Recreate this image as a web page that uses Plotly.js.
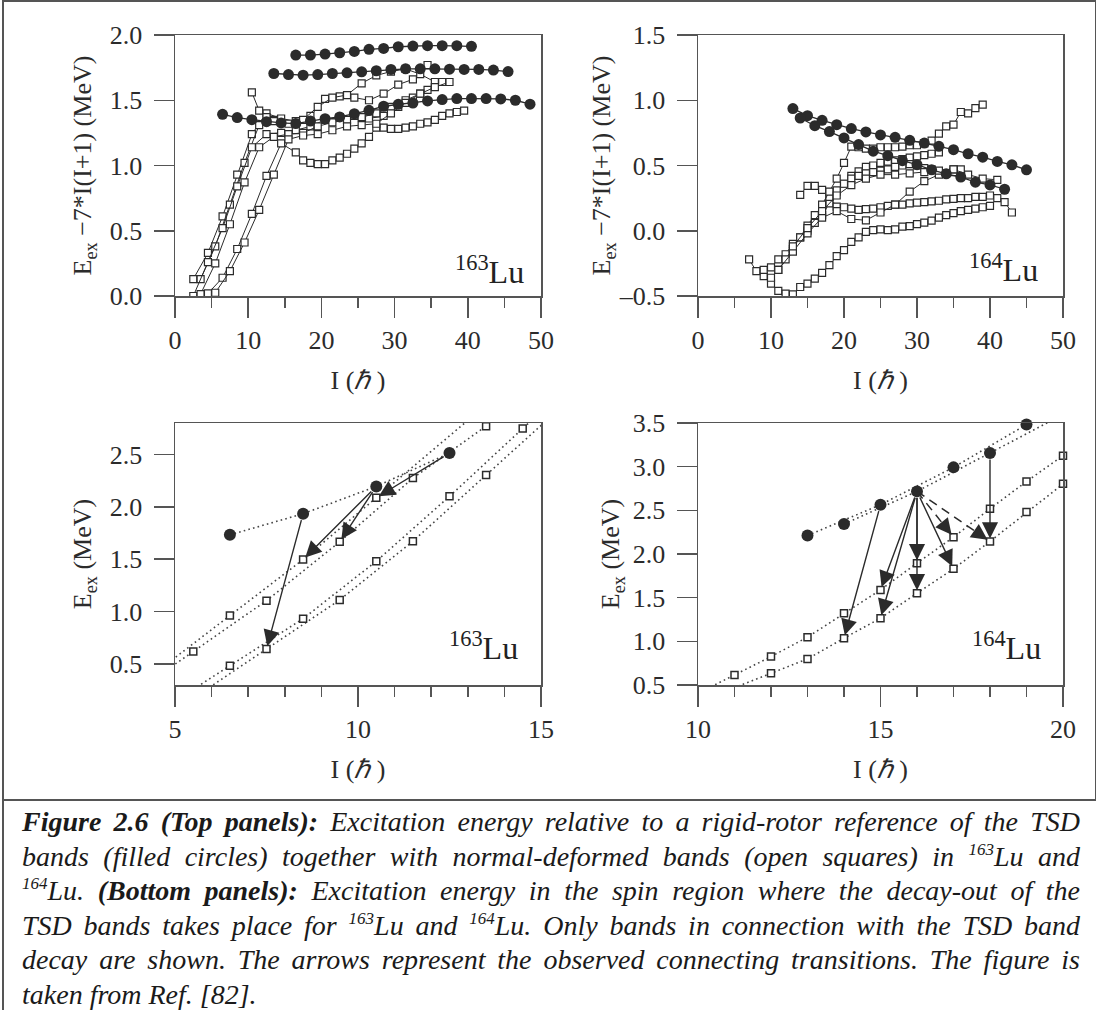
<!DOCTYPE html>
<html>
<head>
<meta charset="utf-8">
<script src="https://cdn.plot.ly/plotly-3.0.1.min.js"></script>
<style>
  body { margin: 0; background: #fff; }
  #wrap { position: relative; width: 1098px; height: 1010px; overflow: hidden; }
  #chart { position: absolute; left: 0; top: 0; width: 1098px; height: 1010px; }
  .rule { position: absolute; background: #555; }
  #caption {
    position: absolute; left: 22px; top: 805px; width: 1058px;
    font-family: "Liberation Serif", "Times New Roman", Times, serif;
    font-style: italic; font-size: 28px; line-height: 34.6px; color: #1a1a1a;
  }
  #caption p { margin: 0; text-align: justify; text-align-last: justify; white-space: nowrap; }
  #caption p.last { text-align-last: left; }
  #caption sup { font-size: 17px; line-height: 0; vertical-align: 11px; }
</style>
</head>
<body>
<div id="wrap">
  <div id="chart"></div>
  <div class="rule" style="left:2px;top:0;width:1.5px;height:1010px;"></div>
  <div class="rule" style="left:2px;top:0;width:1094px;height:1.5px;"></div>
  <div class="rule" style="left:1094.5px;top:0;width:1.5px;height:800px;"></div>
  <div class="rule" style="left:2px;top:799px;width:1094px;height:1.5px;"></div>
  <div id="caption">
    <p><b>Figure 2.6 (Top panels):</b> Excitation energy relative to a rigid-rotor reference of the TSD</p>
    <p>bands (filled circles) together with normal-deformed bands (open squares) in <sup>163</sup>Lu and</p>
    <p><sup>164</sup>Lu. <b>(Bottom panels):</b> Excitation energy in the spin region where the decay-out of the</p>
    <p>TSD bands takes place for <sup>163</sup>Lu and <sup>164</sup>Lu. Only bands in connection with the TSD band</p>
    <p>decay are shown. The arrows represent the observed connecting transitions. The figure is</p>
    <p class="last">taken from Ref. [82].</p>
  </div>
</div>
<script>
// ---------- 163Lu, E_ex - 7*I(I+1) : TSD bands (filled circles) ----------
const tsd163a_I = [16.5,18.5,20.5,22.5,24.5,26.5,28.5,30.5,32.5,34.5,36.5,38.5,40.5];
const tsd163a_E = [1.846,1.846,1.854,1.864,1.874,1.890,1.897,1.910,1.915,1.918,1.918,1.918,1.913];
const tsd163b_I = [13.5,15.5,17.5,19.5,21.5,23.5,25.5,27.5,29.5,31.5,33.5,35.5,37.5,39.5,41.5,43.5,45.5];
const tsd163b_E = [1.705,1.697,1.692,1.697,1.705,1.710,1.718,1.726,1.736,1.741,1.741,1.741,1.738,1.736,1.736,1.731,1.720];
const tsd163c_I = [6.5,8.5,10.5,12.5,14.5,16.5,18.5,20.5,22.5,24.5,26.5,28.5,30.5,32.5,34.5,36.5,38.5,40.5,42.5,44.5,46.5,48.5];
const tsd163c_E = [1.392,1.367,1.351,1.336,1.326,1.321,1.341,1.359,1.372,1.397,1.423,1.454,1.469,1.479,1.495,1.505,1.513,1.513,1.513,1.510,1.500,1.470];

// ---------- 163Lu : normal-deformed bands (open squares) ----------
const nd163a_I = [2.5,4.5,6.5,8.5,10.5,12.5,14.5,16.5,18.5,20.5,22.5,24.5,26.5,28.5,30.5,32.5,34.5];
const nd163a_E = [0.13,0.33,0.61,0.93,1.24,1.40,1.36,1.34,1.38,1.51,1.53,1.52,1.50,1.55,1.62,1.66,1.77];
const nd163b_I = [3.5,5.5,7.5,9.5,11.5,13.5,15.5,17.5,19.5,21.5,23.5,25.5,27.5,29.5,31.5,33.5,35.5];
const nd163b_E = [0.13,0.38,0.70,1.02,1.31,1.35,1.32,1.35,1.45,1.52,1.54,1.63,1.69,1.72,1.74,1.70,1.64];
const nd163c_I = [2.5,4.5,6.5,8.5,10.5,12.5,14.5,16.5,18.5,20.5,22.5,24.5,26.5,28.5,30.5,32.5,34.5,36.5];
const nd163c_E = [0.0,0.26,0.52,0.84,1.14,1.24,1.25,1.27,1.30,1.35,1.37,1.38,1.36,1.38,1.45,1.52,1.58,1.64];
const nd163d_I = [3.5,5.5,7.5,9.5,11.5,13.5,15.5,17.5,19.5,21.5,23.5,25.5,27.5,29.5,31.5,33.5,35.5,37.5];
const nd163d_E = [0.015,0.25,0.55,0.87,1.14,1.22,1.24,1.25,1.30,1.33,1.35,1.37,1.40,1.45,1.50,1.55,1.60,1.64];
const nd163e_I = [10.5,11.5,12.5,13.5];
const nd163e_E = [1.56,1.42,1.37,1.34];
const nd163f_I = [4.5,6.5,8.5,10.5,12.5,14.5,16.5,17.5,18.5,19.5,20.5,21.5,22.5,23.5,24.5,25.5,26.5,27.5,28.5,29.5,30.5,31.5,32.5,33.5,34.5,35.5,36.5,37.5,38.5,39.5];
const nd163f_E = [0.02,0.14,0.36,0.63,0.92,1.17,1.10,1.04,1.02,1.01,1.01,1.04,1.06,1.09,1.13,1.17,1.22,1.29,1.29,1.28,1.28,1.29,1.30,1.32,1.33,1.35,1.38,1.40,1.41,1.42];
const nd163g_I = [5.5,7.5,9.5,11.5,13.5,15.5,17.5,19.5,21.5,23.5,25.5,27.5,29.5,31.5,33.5];
const nd163g_E = [0.025,0.19,0.41,0.66,0.93,1.20,1.23,1.24,1.27,1.30,1.31,1.32,1.40,1.48,1.55];

// ---------- 164Lu, E_ex - 7*I(I+1) : TSD bands ----------
const tsd164a_I = [13,15,17,19,21,23,25,27,29,31,33,35,37,39,41,43,45];
const tsd164a_E = [0.936,0.882,0.846,0.813,0.783,0.757,0.734,0.716,0.693,0.672,0.647,0.621,0.590,0.564,0.531,0.505,0.467];
const tsd164b_I = [14,16,18,20,22,24,26,28,30,32,34,36,38,40,42];
const tsd164b_E = [0.864,0.805,0.760,0.711,0.660,0.610,0.575,0.537,0.506,0.467,0.436,0.411,0.372,0.351,0.318];

// ---------- 164Lu : normal-deformed bands ----------
const nd164a_I = [9,10,11,12,13,14,15,16,17,18,19,20,21,22,23,24,25,26,27,28,29,30,31,32,33,34,35,36,37,38,39,40];
const nd164a_E = [-0.348,-0.405,-0.461,-0.482,-0.487,-0.431,-0.405,-0.367,-0.323,-0.264,-0.195,-0.149,-0.085,-0.051,-0.008,0.005,0.010,0.005,0.010,0.031,0.036,0.051,0.062,0.077,0.100,0.120,0.135,0.150,0.160,0.170,0.180,0.190];
const nd164b_I = [7,8,9,10,11,12,13,14,15,16,17,18,19,20,21,22,23,24,25,26,27,28,29,30,31,32,33];
const nd164b_E = [-0.22,-0.31,-0.30,-0.28,-0.22,-0.18,-0.10,-0.05,0.00,0.06,0.12,0.21,0.30,0.36,0.42,0.455,0.49,0.50,0.52,0.53,0.54,0.55,0.56,0.57,0.58,0.59,0.60];
const nd164c_I = [10,11,12,13,14,15,16,17,18,19,20,21,22,23,24,25,26,27,28,29,30,31,32,33,34,35,36];
const nd164c_E = [-0.36,-0.30,-0.22,-0.14,-0.05,0.04,0.12,0.19,0.26,0.31,0.36,0.40,0.42,0.44,0.45,0.46,0.47,0.49,0.50,0.51,0.50,0.48,0.47,0.45,0.44,0.45,0.47];
const nd164d_I = [14,15,16,17,18,19,20,21,22,23,24,25,26,27,28,29,30,31,32,33,34,35,36,37,38,39,40,41,42,43];
const nd164d_E = [0.275,0.344,0.344,0.313,0.26,0.185,0.18,0.17,0.16,0.165,0.17,0.18,0.19,0.20,0.20,0.21,0.215,0.22,0.225,0.23,0.24,0.245,0.25,0.25,0.26,0.26,0.27,0.25,0.22,0.14];
const nd164e_I = [11,13,15,17,19,21,23,25,27,29,31,33,35,37,39,41];
const nd164e_E = [-0.30,-0.16,-0.02,0.10,0.15,0.09,0.08,0.14,0.20,0.30,0.38,0.43,0.47,0.43,0.40,0.39];
const nd164f_I = [17,18,19,20,21,22,23,24,25,26,27,28,29,30,31,32,33,34,35,36,37,38,39];
const nd164f_E = [0.20,0.30,0.40,0.52,0.645,0.64,0.63,0.63,0.64,0.64,0.64,0.645,0.655,0.655,0.67,0.69,0.744,0.80,0.813,0.91,0.90,0.94,0.967];
const nd164g_I = [13,15,17,19,21,23,25,27,29,31,33,35];
const nd164g_E = [-0.12,0.02,0.15,0.27,0.35,0.40,0.43,0.43,0.44,0.45,0.46,0.47];

// ---------- 163Lu, decay-out region (E_ex) ----------
const out163_tsd_I = [6.5,8.5,10.5,12.5];
const out163_tsd_E = [1.733,1.934,2.195,2.513];
const out163_a_I = [5.5,7.5,9.5,11.5,13.5];
const out163_a_E = [0.620,1.105,1.666,2.274,2.770];
const out163_b_I = [6.5,8.5,10.5];
const out163_b_E = [0.962,1.497,2.087];
const out163_c_I = [6.5,8.5,10.5,12.5,14.5];
const out163_c_E = [0.484,0.933,1.481,2.100,2.747];
const out163_d_I = [7.5,9.5,11.5,13.5];
const out163_d_E = [0.643,1.112,1.672,2.303];
// connecting transitions: [from band, I_from, to band, I_to]
const links163 = [['tsd',8.5,'d',7.5],['tsd',10.5,'b',8.5],['tsd',10.5,'a',9.5],['tsd',12.5,'b',10.5]];

// ---------- 164Lu, decay-out region (E_ex) ----------
const out164_tsdOdd_I = [13,15,17,19];
const out164_tsdOdd_E = [2.212,2.564,2.992,3.482];
const out164_tsdEven_I = [14,16,18];
const out164_tsdEven_E = [2.343,2.717,3.157];
const out164_up_I = [11,12,13,14,15,16,17,18,19,20];
const out164_up_E = [0.615,0.825,1.047,1.322,1.589,1.895,2.193,2.518,2.830,3.126];
const out164_lo_I = [12,13,14,15,16,17,18,19,20];
const out164_lo_E = [0.634,0.798,1.036,1.265,1.551,1.830,2.144,2.480,2.805];
// connecting transitions: [from band, I_from, to band, I_to, dashed?]
const links164 = [
  ['tsd',15,'lo',14,false], ['tsd',16,'up',15,false], ['tsd',16,'lo',15,false],
  ['tsd',16,'up',16,false], ['tsd',16,'lo',16,false], ['tsd',16,'lo',17,false],
  ['tsd',16,'up',17,true],  ['tsd',16,'lo',18,true],  ['tsd',18,'lo',18,false]
];

// ---------------- drawing ----------------
const FONT = 'Liberation Serif, Times New Roman, serif';
const INK = '#2b2b2b';
const W = 1098, H = 1010;
const xDom = (l, r) => [l / W, r / W];
const yDom = (t, b) => [1 - b / H, 1 - t / H];

const traces = [];
function bandND(I, E, ax) {
  traces.push({x: I, y: E, xaxis: 'x' + ax, yaxis: 'y' + ax, mode: 'lines+markers', type: 'scatter',
    line: {color: INK, width: 1},
    marker: {symbol: 'square', size: 7, color: '#fff', line: {color: INK, width: 1.2}},
    hoverinfo: 'skip', showlegend: false});
}
function bandTSD(I, E, ax) {
  traces.push({x: I, y: E, xaxis: 'x' + ax, yaxis: 'y' + ax, mode: 'lines+markers', type: 'scatter',
    line: {color: INK, width: 1.3},
    marker: {symbol: 'circle', size: 11, color: INK},
    hoverinfo: 'skip', showlegend: false});
}
// dotted guide through a band, prolonged along its end segments (dLo below, dHi above)
function guide(I, E, ax, dLo, dHi) {
  const n = I.length;
  const s0 = (E[1] - E[0]) / (I[1] - I[0]);
  const s1 = (E[n - 1] - E[n - 2]) / (I[n - 1] - I[n - 2]);
  const gx = I.slice(), gy = E.slice();
  if (dLo) { gx.unshift(I[0] - dLo); gy.unshift(E[0] - s0 * dLo); }
  if (dHi) { gx.push(I[n - 1] + dHi); gy.push(E[n - 1] + s1 * dHi); }
  traces.push({x: gx, y: gy, xaxis: 'x' + ax, yaxis: 'y' + ax, mode: 'lines', type: 'scatter',
    line: {color: '#444', width: 1.6, dash: '1.6px,3.2px'}, hoverinfo: 'skip', showlegend: false});
}
function pts(I, E, ax, kind) {
  const m = kind === 'tsd'
    ? {symbol: 'circle', size: 12, color: INK}
    : {symbol: 'square', size: 7, color: '#fff', line: {color: INK, width: 1.5}};
  traces.push({x: I, y: E, xaxis: 'x' + ax, yaxis: 'y' + ax, mode: 'markers', type: 'scatter',
    marker: m, cliponaxis: false, hoverinfo: 'skip', showlegend: false});
}

// top-left panel (163Lu)
[[nd163a_I,nd163a_E],[nd163b_I,nd163b_E],[nd163c_I,nd163c_E],[nd163d_I,nd163d_E],
 [nd163e_I,nd163e_E],[nd163f_I,nd163f_E],[nd163g_I,nd163g_E]].forEach(b => bandND(b[0], b[1], ''));
[[tsd163a_I,tsd163a_E],[tsd163b_I,tsd163b_E],[tsd163c_I,tsd163c_E]].forEach(b => bandTSD(b[0], b[1], ''));
// top-right panel (164Lu)
[[nd164a_I,nd164a_E],[nd164b_I,nd164b_E],[nd164c_I,nd164c_E],[nd164d_I,nd164d_E],
 [nd164e_I,nd164e_E],[nd164f_I,nd164f_E],[nd164g_I,nd164g_E]].forEach(b => bandND(b[0], b[1], '2'));
[[tsd164a_I,tsd164a_E],[tsd164b_I,tsd164b_E]].forEach(b => bandTSD(b[0], b[1], '2'));

// bottom-left panel (163Lu decay-out)
guide(out163_tsd_I, out163_tsd_E, '3', 0, 0);
guide(out163_a_I, out163_a_E, '3', 2, 2);
guide(out163_b_I, out163_b_E, '3', 2, 3);
guide(out163_c_I, out163_c_E, '3', 2, 2);
guide(out163_d_I, out163_d_E, '3', 2, 2);
pts(out163_a_I, out163_a_E, '3', 'nd'); pts(out163_b_I, out163_b_E, '3', 'nd');
pts(out163_c_I, out163_c_E, '3', 'nd'); pts(out163_d_I, out163_d_E, '3', 'nd');
pts(out163_tsd_I, out163_tsd_E, '3', 'tsd');

// bottom-right panel (164Lu decay-out)
guide(out164_tsdOdd_I, out164_tsdOdd_E, '4', 0, 1);
guide(out164_tsdEven_I, out164_tsdEven_E, '4', 0, 2);
guide(out164_up_I, out164_up_E, '4', 1, 1);
guide(out164_lo_I, out164_lo_E, '4', 2, 1);
pts(out164_up_I, out164_up_E, '4', 'nd'); pts(out164_lo_I, out164_lo_E, '4', 'nd');
pts(out164_tsdOdd_I, out164_tsdOdd_E, '4', 'tsd'); pts(out164_tsdEven_I, out164_tsdEven_E, '4', 'tsd');

// level lookup for the transition arrows
const levels163 = {tsd: [out163_tsd_I, out163_tsd_E], a: [out163_a_I, out163_a_E], b: [out163_b_I, out163_b_E],
                   c: [out163_c_I, out163_c_E], d: [out163_d_I, out163_d_E]};
const levels164 = {tsd: [out164_tsdOdd_I.concat(out164_tsdEven_I), out164_tsdOdd_E.concat(out164_tsdEven_E)],
                   up: [out164_up_I, out164_up_E], lo: [out164_lo_I, out164_lo_E]};
const energy = (lv, band, I) => lv[band][1][lv[band][0].indexOf(I)];

const annotations = [];
const head = {showarrow: true, text: '', arrowhead: 2, arrowsize: 2.3, arrowwidth: 1.4, arrowcolor: INK};
function link(lv, l, ax) {
  const x0 = l[1], y0 = energy(lv, l[0], l[1]);
  const x1 = l[3], y1 = energy(lv, l[2], l[3]);
  const ref = {xref: 'x' + ax, yref: 'y' + ax, axref: 'x' + ax, ayref: 'y' + ax, x: x1, y: y1};
  if (l[4]) {
    traces.push({x: [x0, x1], y: [y0, y1], xaxis: 'x' + ax, yaxis: 'y' + ax, mode: 'lines', type: 'scatter',
      line: {color: INK, width: 1.5, dash: '9px,6px'}, hoverinfo: 'skip', showlegend: false});
    annotations.push(Object.assign({}, head, ref,
      {ax: x1 + 0.2 * (x0 - x1), ay: y1 + 0.2 * (y0 - y1), standoff: 3}));
  } else {
    annotations.push(Object.assign({}, head, ref, {ax: x0, ay: y0, standoff: 3, startstandoff: 5}));
  }
}
links163.forEach(l => link(levels163, l, '3'));
links164.forEach(l => link(levels164, l, '4'));

// nucleus labels
function nucleus(txt, xr, yc) {
  annotations.push({xref: 'paper', yref: 'paper', x: xr / W, y: 1 - yc / H, xanchor: 'right', yanchor: 'middle',
    showarrow: false, text: txt, font: {family: FONT, size: 32, color: '#222'}});
}
nucleus('<sup>163</sup>Lu', 526, 270);
nucleus('<sup>164</sup>Lu', 1040, 268);
nucleus('<sup>163</sup>Lu', 520, 646);
nucleus('<sup>164</sup>Lu', 1043, 646);

const tickFont = {family: FONT, size: 26, color: '#2b2b2b'};
const titleFont = {family: FONT, size: 26, color: '#2b2b2b'};
function axis(extra) {
  return Object.assign({showgrid: false, zeroline: false, showline: true, mirror: true,
    linecolor: '#555', linewidth: 1.5, ticks: 'outside', ticklen: 20, tickwidth: 1.5, tickcolor: '#555',
    tickfont: tickFont, fixedrange: true}, extra);
}
const xTitle = {text: 'I (<i>ℏ</i> )', font: titleFont, standoff: 17};
const yTitle = (t, s) => ({text: t, font: titleFont, standoff: s});
const TOP_T = 'E<sub>ex</sub> −7*I(I+1) (MeV)', BOT_T = 'E<sub>ex</sub> (MeV)';
const minorX = d => ({dtick: d, ticks: 'outside', ticklen: 10, tickwidth: 1.5, tickcolor: '#555'});
const xExtra = {ticklabelstandoff: 0};
const yExtra = {ticklabelstandoff: 6};

const layout = {
  width: W, height: H, margin: {l: 0, r: 0, t: 0, b: 0},
  paper_bgcolor: 'rgba(0,0,0,0)', plot_bgcolor: '#fff', showlegend: false,
  xaxis:  axis(Object.assign({domain: xDom(175, 541), range: [0, 50], dtick: 10, minor: minorX(5), title: xTitle, anchor: 'y'}, xExtra)),
  yaxis:  axis(Object.assign({domain: yDom(35, 296), range: [0, 2], dtick: 0.5, tickformat: '.1f', title: yTitle(TOP_T, 10), anchor: 'x'}, yExtra)),
  xaxis2: axis(Object.assign({domain: xDom(698, 1063), range: [0, 50], dtick: 10, minor: minorX(5), title: xTitle, anchor: 'y2'}, xExtra)),
  yaxis2: axis(Object.assign({domain: yDom(35, 296), range: [-0.5, 1.5], tickvals: [-0.5, 0, 0.5, 1.0, 1.5],
          ticktext: ['–0.5', '0.0', '0.5', '1.0', '1.5'], title: yTitle(TOP_T, 0), anchor: 'x2'}, yExtra)),
  xaxis3: axis(Object.assign({domain: xDom(175, 541), range: [5, 15], dtick: 5, minor: minorX(1), title: xTitle, anchor: 'y3'}, xExtra)),
  yaxis3: axis(Object.assign({domain: yDom(423, 685), range: [0.3, 2.8], tickvals: [0.5, 1.0, 1.5, 2.0, 2.5], tickformat: '.1f', title: yTitle(BOT_T, 10), anchor: 'x3'}, yExtra)),
  xaxis4: axis(Object.assign({domain: xDom(698, 1063), range: [10, 20], dtick: 5, minor: minorX(1), title: xTitle, anchor: 'y4'}, xExtra)),
  yaxis4: axis(Object.assign({domain: yDom(423, 685), range: [0.5, 3.5], dtick: 0.5, tickformat: '.1f', title: yTitle(BOT_T, 5), anchor: 'x4'}, yExtra)),
  annotations: annotations
};

Plotly.newPlot('chart', traces, layout, {staticPlot: true, displayModeBar: false});
</script>
</body>
</html>
